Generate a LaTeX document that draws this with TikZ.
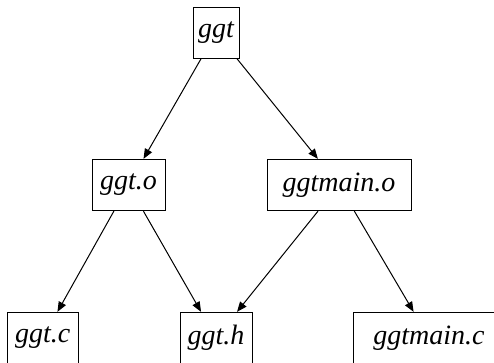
\documentclass[tikz,border=0pt]{standalone}
\usepackage{fontspec}
\setmainfont{Liberation Serif}
\newfontfamily\filefont{Liberation Serif Italic}
\usetikzlibrary{arrows.meta}

\tikzset{every picture/.style={line width=0.75pt}}
\tikzset{
	filebox/.style={draw, rectangle, inner sep=0pt, minimum height=38.5pt, font=\fontsize{21}{25}\selectfont\filefont},
	dep/.style={-{Triangle[length=7.5pt,width=6pt]}}
}

\begin{document}
\begin{tikzpicture}[x=0.75pt,y=0.75pt,yscale=-1,xscale=1]
	\useasboundingbox (0,0) rectangle (494,362);

	% Text Node
	\node [filebox, minimum width=34.5pt] (ggt) at (216,32.7) {ggt};
	% Text Node
	\node [filebox, minimum width=54.75pt] (ggto) at (128.5,185) {ggt.o};
	% Text Node
	\node [filebox, minimum width=108pt] (ggtmaino) at (339,185) {ggtmain.o};
	% Text Node
	\node [filebox, minimum width=53.25pt] (ggtc) at (42.8,338) {ggt.c};
	% Text Node
	\node [filebox, minimum width=54pt] (ggth) at (216,338) {ggt.h};
	% Text Node
	\node [filebox, minimum width=114pt] (ggtmainc) at (429,338) {ggtmain.c};

	%Straight Lines
	\draw [dep] (ggt) -- (ggto);
	\draw [dep] (ggt) -- (ggtmaino);
	%Straight Lines
	\draw [dep] (ggto) -- (ggtc);
	\draw [dep] (ggto) -- (ggth);
	\draw [dep] (ggtmaino) -- (ggth);
	\draw [dep] (ggtmaino) -- (ggtmainc);

\end{tikzpicture}
\end{document}
